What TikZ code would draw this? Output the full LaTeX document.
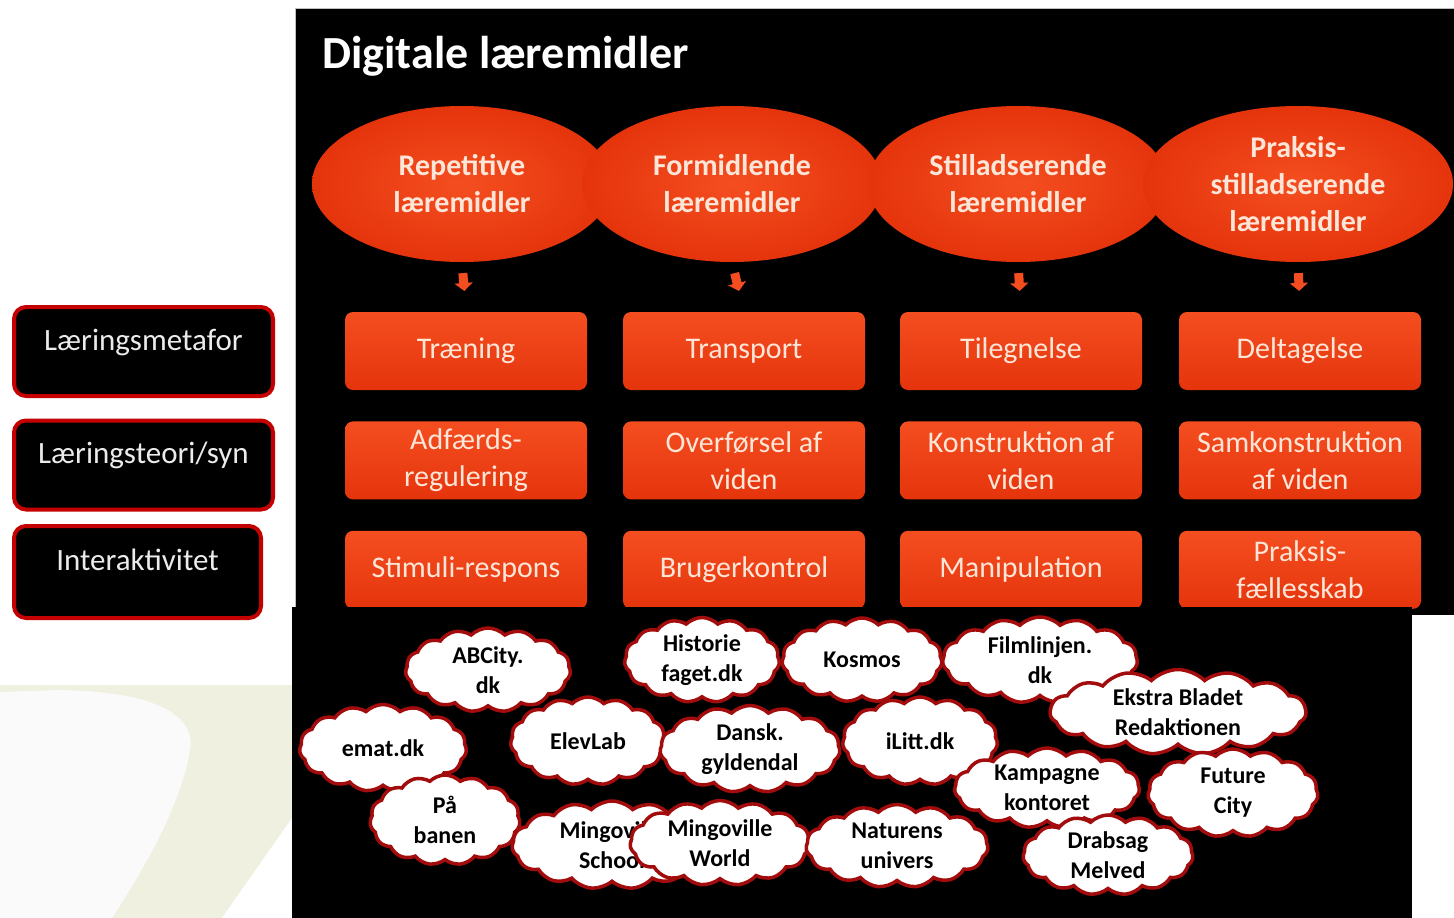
\documentclass[tikz,border=0pt]{standalone}
\usepackage{fontspec}
\setmainfont{Carlito}
\usetikzlibrary{positioning,calc,shapes.geometric,shapes.symbols,arrows.meta}

\definecolor{slidered}{HTML}{E5340C}
\definecolor{slidetop}{HTML}{F44E20}
\definecolor{slidetext}{HTML}{FDE6D8}
\definecolor{framered}{HTML}{C40000}
\definecolor{cloudred}{HTML}{A30C0C}
\definecolor{olive}{HTML}{EFF0DF}

\tikzset{
  kind/.style={ellipse, inner color=slidetop, outer color=slidered,
    minimum width=300pt, minimum height=156pt, inner sep=0pt, align=center,
    text=slidetext, font=\fontsize{30}{37}\selectfont\bfseries},
  cell/.style={rectangle, rounded corners=8pt, top color=slidetop, bottom color=slidered,
    minimum width=242pt, minimum height=78pt, inner sep=0pt, align=center,
    text=slidetext, font=\fontsize{30}{37}\selectfont},
  side/.style={rectangle, rounded corners=12pt, fill=black, draw=framered, line width=4pt,
    minimum height=89pt, text height=21pt, text depth=24pt, text=black!8,
    font=\fontsize{31}{34}\selectfont},
  site/.style={cloud, cloud puffs=15, cloud puff arc=90, cloud ignores aspect,
    fill=white, draw=cloudred, line width=3.5pt, inner sep=0pt, align=center,
    font=\fontsize{24}{30}\selectfont\bfseries},
  pointer/.style={-{Triangle[width=18pt,length=8pt]}, line width=9pt, draw=slidetop},
}

\begin{document}
\begin{tikzpicture}[x=1pt, y=-1pt, node distance=31pt]
  \useasboundingbox (0,0) rectangle (1454,918);
  \fill[white] (0,0) rectangle (1454,918);

  % background swoosh bottom left
  \fill[olive] (0,685) rectangle (292,918);
  \fill[white!98!black] (0,692) -- (60,690) .. controls (175,692) and (195,725) .. (190,750)
    .. controls (182,800) and (150,860) .. (112,918) -- (0,918) -- cycle;
  \fill[white] (292,818) -- (222,918) -- (292,918) -- cycle;

  % left labels
  \node[side, minimum width=259pt] (metafor) at (143.5,351.5) {Læringsmetafor};
  \node[side, minimum width=259pt] (teori) at (143.5,465) {Læringsteori/syn};
  \node[side, minimum width=247pt, minimum height=92pt] (inter) at (137.5,572) {Interaktivitet};

  % slide
  \fill[black] (295,8) rectangle (1454,615);
  \draw[black!25, line width=1pt] (295,615) -- (295,8) -- (1454,8);
  \node[anchor=base west, text=white, font=\fontsize{46}{50}\selectfont\bfseries]
    (title) at (319,68) {Digitale læremidler};

  \node[kind] (e1) at (462,184) {Repetitive\\læremidler};
  \node[kind] (e2) at (732,184) {Formidlende\\læremidler};
  \node[kind] (e3) at (1018,184) {Stilladserende\\læremidler};
  \node[kind, minimum width=310pt] (e4) at (1298,184) {Praksis-\\stilladserende\\læremidler};

  \node[cell] (m1) at (466,351) {Træning};
  \node[cell] (m2) at (744,351) {Transport};
  \node[cell] (m3) at (1021,351) {Tilegnelse};
  \node[cell] (m4) at (1300,351) {Deltagelse};

  \node[cell, below=of m1] (t1) {Adfærds-\\regulering};
  \node[cell, below=of m2] (t2) {Overførsel af\\viden};
  \node[cell, below=of m3] (t3) {Konstruktion af\\viden};
  \node[cell, below=of m4] (t4) {Samkonstruktion\\af viden};

  \node[cell, below=of t1] (i1) {Stimuli-respons};
  \node[cell, below=of t2] (i2) {Brugerkontrol};
  \node[cell, below=of t3] (i3) {Manipulation};
  \node[cell, below=of t4] (i4) {Praksis-\\fællesskab};

  \foreach \i in {1,...,4}
    \draw[pointer] ($(e\i.south)!0.22!(m\i.north)$) -- ($(e\i.south)!0.58!(m\i.north)$);

  % examples
  \fill[black] (292,607) rectangle (1412,918);

  \node[site, minimum width=165pt, minimum height=84pt] (abcity) at (488,670) {ABCity.\\dk};
  \node[site, minimum width=155pt, minimum height=85pt] (historie) at (702,660) {Historie\\faget.dk};
  \node[site, minimum width=160pt, minimum height=84pt] (kosmos) at (862,660) {Kosmos};
  \node[site, minimum width=195pt, minimum height=86pt] (film) at (1040,660) {Filmlinjen.\\dk};
  \node[site, minimum width=256pt, minimum height=85pt] (ekstra) at (1178,712) {Ekstra Bladet\\Redaktionen};
  \node[site, minimum width=167pt, minimum height=87pt] (emat) at (383,748) {emat.dk};
  \node[site, minimum width=155pt, minimum height=88pt] (elevlab) at (588,741) {ElevLab};
  \node[site, minimum width=180pt, minimum height=87pt] (dansk) at (750,749) {Dansk.\\gyldendal};
  \node[site, minimum width=155pt, minimum height=88pt] (ilitt) at (920,741) {iLitt.dk};
  \node[site, minimum width=185pt, minimum height=80pt] (kampagne) at (1047,788) {Kampagne\\kontoret};
  \node[site, minimum width=170pt, minimum height=88pt] (future) at (1233,793) {Future\\City};
  \node[site, minimum width=150pt, minimum height=90pt] (paabanen) at (445,820) {På\\banen};
  \node[site, minimum width=200pt, minimum height=88pt] (mingoschool) at (612,845) {Mingoville\\School};
  \node[site, minimum width=180pt, minimum height=85pt] (mingoworld) at (720,843) {Mingoville\\World};
  \node[site, minimum width=182pt, minimum height=83pt] (naturens) at (897,846) {Naturens\\univers};
  \node[site, minimum width=170pt, minimum height=80pt] (drabsag) at (1108,855) {Drabsag\\Melved};

\end{tikzpicture}
\end{document}
